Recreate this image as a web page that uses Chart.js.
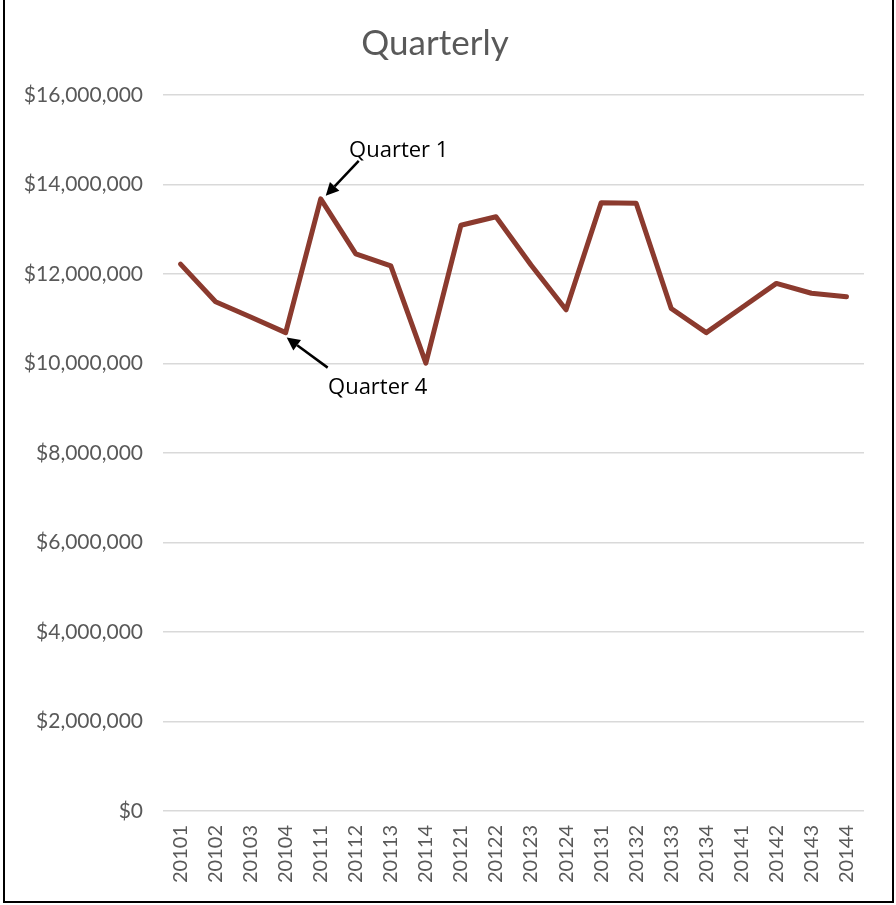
<!DOCTYPE html>
<html lang="en">
<head>
  <meta charset="UTF-8">
  <script src="https://cdn.jsdelivr.net/npm/chart.js"></script>
  <title>Quarterly</title>
  <style>
    body { margin: 0; background: #fff; }
    #wrap { position: relative; width: 896px; height: 905px; }
    #frame {
      position: absolute; left: 3px; top: -3px; width: 887px; height: 904px;
      border: 2px solid #000; border-top: none; pointer-events: none;
    }
  </style>
</head>
<body>
<div id="wrap">
  <canvas id="grafico"></canvas>
  <div id="frame"></div>
</div>
<script>
  // quarters (year + quarter) and revenue per quarter
  var quarters = ['20101', '20102', '20103', '20104', '20111', '20112', '20113', '20114',
    '20121', '20122', '20123', '20124', '20131', '20132', '20133', '20134',
    '20141', '20142', '20143', '20144']
  var revenue = [12220000, 11380000, 11040000, 10690000, 13680000, 12450000, 12180000, 10010000,
    13090000, 13280000, 12200000, 11200000, 13590000, 13580000, 11230000, 10690000,
    11240000, 11790000, 11570000, 11490000]
  var yMin = 0
  var yMax = 16000000
  var yStep = 2000000

  // callouts: which quarter they point at and the label text
  var callouts = [
    { index: 4, text: 'Quarter 1', tip: [5, -3], tail: [38, -38], label: [78, -48] },
    { index: 3, text: 'Quarter 4', tip: [1, 5], tail: [42, 35], label: [92, 55] }
  ]

  var labelFont = 'Lato, "Gill Sans", sans-serif'

  function arrow(ctx, x1, y1, x2, y2) {
    var ang = Math.atan2(y2 - y1, x2 - x1)
    var head = 13
    var half = 6.5
    var bx = x2 - head * Math.cos(ang)
    var by = y2 - head * Math.sin(ang)
    ctx.beginPath()
    ctx.moveTo(x1, y1)
    ctx.lineTo(bx, by)
    ctx.stroke()
    ctx.beginPath()
    ctx.moveTo(x2, y2)
    ctx.lineTo(bx + half * Math.sin(ang), by - half * Math.cos(ang))
    ctx.lineTo(bx - half * Math.sin(ang), by + half * Math.cos(ang))
    ctx.closePath()
    ctx.fill()
  }

  var calloutPlugin = {
    id: 'callouts',
    afterDatasetsDraw(chart) {
      var ctx = chart.ctx
      var xs = chart.scales.x
      var ys = chart.scales.y
      ctx.save()
      ctx.strokeStyle = '#000'
      ctx.fillStyle = '#000'
      ctx.lineWidth = 2.5
      callouts.forEach(function (c) {
        var px = xs.getPixelForValue(c.index)
        var py = ys.getPixelForValue(revenue[c.index])
        arrow(ctx, px + c.tail[0], py + c.tail[1], px + c.tip[0], py + c.tip[1])
        ctx.font = '22px "Open Sans", "Noto Sans", sans-serif'
        ctx.textAlign = 'center'
        ctx.textBaseline = 'middle'
        ctx.fillText(c.text, px + c.label[0], py + c.label[1])
      })
      ctx.restore()
    }
  }

  var canvas = document.getElementById('grafico')
  canvas.width = 896
  canvas.height = 905

  var grafico = new Chart(canvas, {
    type: 'line',
    data: {
      labels: quarters,
      datasets: [{
        label: 'Quarterly',
        data: revenue,
        borderColor: '#8B3A2E',
        borderWidth: 5,
        borderJoinStyle: 'round',
        borderCapStyle: 'round',
        pointRadius: 0,
        tension: 0,
        fill: false
      }]
    },
    options: {
      responsive: false,
      animation: false,
      layout: { padding: { left: 6, right: 32, top: 0, bottom: 4 } },
      plugins: {
        legend: { display: false },
        tooltip: { enabled: false },
        title: {
          display: true,
          text: 'Quarterly',
          color: '#595959',
          font: { family: labelFont, size: 35, weight: 'normal' },
          padding: { top: 23, bottom: 30 }
        }
      },
      scales: {
        x: {
          offset: true,
          grid: { display: false },
          border: { display: false },
          ticks: {
            color: '#595959',
            font: { family: labelFont, size: 20 },
            minRotation: 90,
            maxRotation: 90,
            autoSkip: false,
            padding: 6
          },
          afterFit(scale) { scale.height = 90 }
        },
        y: {
          min: yMin,
          max: yMax,
          grid: { color: '#d9d9d9', lineWidth: 1.5, drawTicks: false },
          border: { display: false },
          ticks: {
            stepSize: yStep,
            color: '#595959',
            font: { family: labelFont, size: 21 },
            padding: 20,
            callback: function (v) { return '$' + v.toLocaleString('en-US') }
          },
          afterFit(scale) { scale.width = 157 }
        }
      }
    },
    plugins: [calloutPlugin]
  })
</script>
</body>
</html>
